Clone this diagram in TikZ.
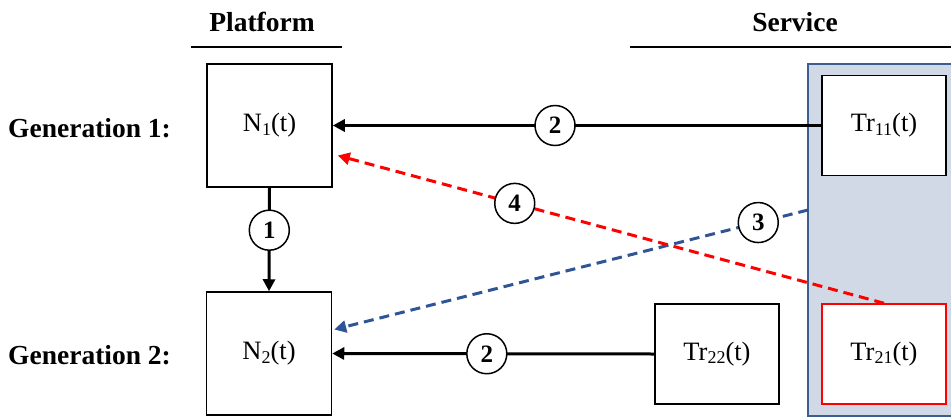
\documentclass[tikz,border=0pt]{standalone}
\usepackage{fontspec}
\setmainfont{Liberation Serif}
\usetikzlibrary{arrows.meta}
\definecolor{svcfill}{RGB}{208,217,229}
\definecolor{svcedge}{RGB}{60,95,145}
\definecolor{linkblue}{RGB}{47,85,151}
% lowered subscript in text font
\newcommand{\lowsub}[1]{\raisebox{-0.28ex}{\fontsize{18}{18}\selectfont #1}}
\tikzset{
  box/.style={draw,line width=1.5pt,inner sep=0pt,fill=white,
    minimum width=125pt,minimum height=123pt,font=\fontsize{26.5}{30}\selectfont},
  trbox/.style={box,minimum width=124pt,minimum height=100pt},
  flow/.style={line width=3pt,-{Triangle[length=12pt,width=12pt]}},
  reuse/.style={line width=3pt,dash pattern=on 10pt off 6pt,
    -{Triangle[length=12pt,width=12pt]}},
  tag/.style={circle,draw=black,text=black,solid,line width=1.5pt,fill=white,
    minimum size=40pt,inner sep=0pt,font=\bfseries\fontsize{25}{25}\selectfont},
  head/.style={font=\bfseries\fontsize{27.5}{30}\selectfont,inner sep=0pt},
  rule/.style={line width=1.5pt},
}
\begin{document}
\begin{tikzpicture}[x=1pt,y=-1pt]
\useasboundingbox (0,0) rectangle (951,418);

% service area
\begin{scope}
  \clip (0,0) rectangle (951,418);
  \draw[svcedge,fill=svcfill,line width=1.5pt] (808,64) rectangle (960,416);
\end{scope}

% column headings
\node[head] (hplat) at (262,22) {Platform};
\node[head] (hserv) at (795,22) {Service};
\draw[rule] (191,47) -- (342,47);
\draw[rule] (630,47) -- (951,47);

% row headings
\node[head,anchor=west] (g1) at (8,128) {Generation 1:};
\node[head,anchor=west] (g2) at (8,355) {Generation 2:};

% nodes
\node[box] (N1) at (269.5,125.5) {N\lowsub{1}(t)};
\node[box] (N2) at (269,353.5) {N\lowsub{2}(t)};
\node[trbox] (T11) at (884,125.5) {Tr\lowsub{11}(t)};
\node[trbox] (T22) at (717,354) {Tr\lowsub{22}(t)};
\node[trbox,draw=red] (T21) at (884,354) {Tr\lowsub{21}(t)};
\coordinate (s3) at (808,210);

% connectors
\draw[flow] (N1.south) -- node[tag,pos=0.41] (c1) {1} (N2.north);
\draw[flow] (T11.west) -- node[tag,pos=0.545] (c2a) {2} (N1.east);
\draw[flow] (T22.west) -- node[tag,pos=0.52] (c2b) {2} (N2.east);
\draw[reuse,linkblue] (s3) -- node[tag,pos=0.105] (c3) {3}
  ([xshift=2pt,yshift=24pt]N2.east);
\draw[reuse,red] (T21.north) -- node[tag,pos=0.676] (c4) {4}
  ([xshift=5pt,yshift=-30pt]N1.east);
\end{tikzpicture}
\end{document}
